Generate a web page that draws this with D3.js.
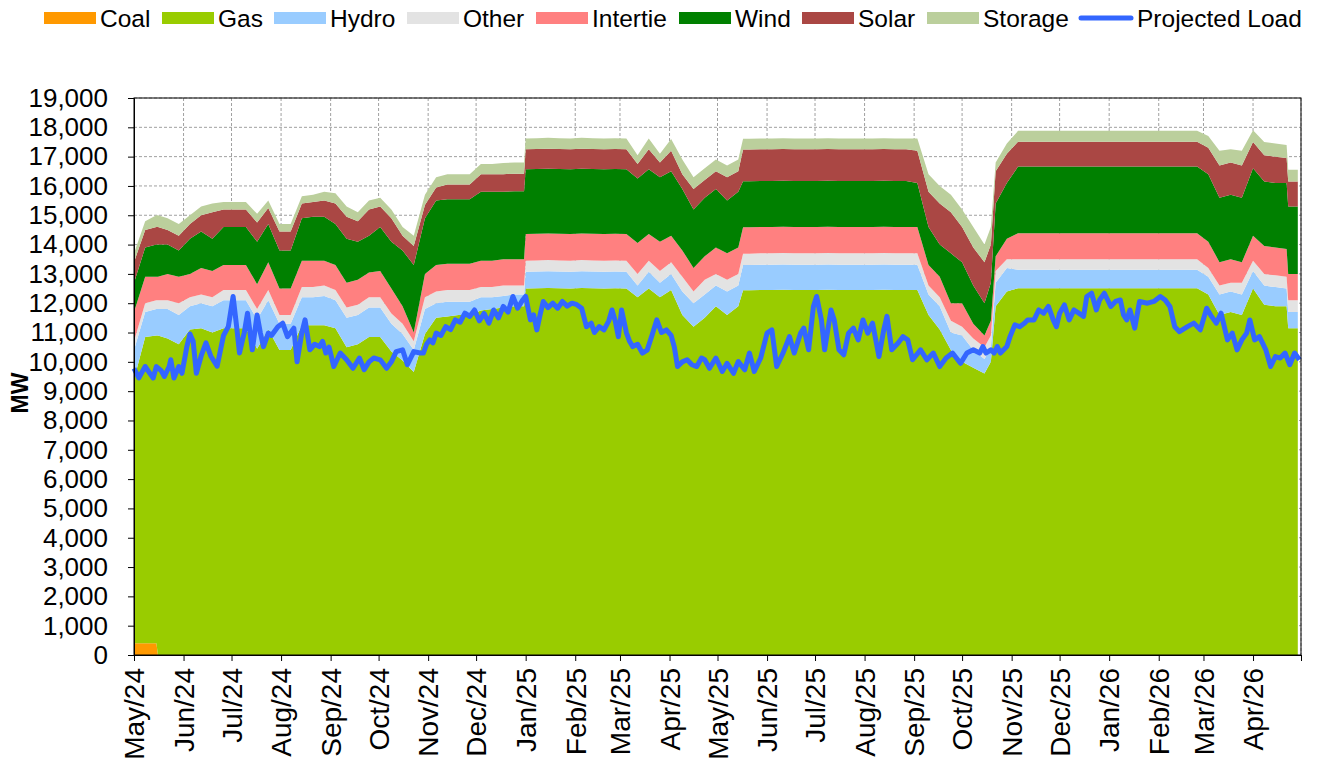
<!DOCTYPE html>
<html>
<head>
<meta charset="utf-8">
<script src="https://cdn.jsdelivr.net/npm/d3@7"></script>
<style>
body { margin: 0; background: #fff; }
svg text { font-family: "Liberation Sans", Arial, sans-serif; fill: #000; }
</style>
</head>
<body>
<svg id="chart" width="1320" height="765"></svg>
<script>
var startDate = new Date(Date.UTC(2024, 4, 1));
var endDate = new Date(Date.UTC(2026, 4, 1));

var seriesNames = ["Coal", "Gas", "Hydro", "Other", "Intertie", "Wind", "Solar", "Storage"];

// supply samples: mostly weekly, plus a few extra days at the steps
var sampleDays = [0, 7, 14, 15, 21, 28, 35, 42, 49, 56, 63, 70, 77, 84, 91, 98, 105, 112, 119, 126,
  133, 140, 147, 154, 161, 168, 175, 182, 189, 196, 203, 210, 217, 224, 231, 238, 244, 245, 252, 259,
  266, 273, 280, 287, 294, 301, 308, 315, 322, 329, 336, 343, 350, 357, 364, 371, 378, 381, 385, 392,
  399, 406, 413, 420, 427, 434, 441, 448, 455, 462, 469, 476, 483, 490, 497, 504, 511, 518, 525, 532,
  536, 539, 546, 553, 560, 567, 574, 581, 588, 595, 602, 609, 616, 623, 630, 637, 644, 651, 658, 665,
  672, 679, 686, 693, 700, 707, 714, 721, 722, 728];

var coal = [400, 400, 400, 0, 0, 0, 0, 0, 0, 0, 0, 0, 0, 0, 0, 0, 0, 0, 0, 0,
  0, 0, 0, 0, 0, 0, 0, 0, 0, 0, 0, 0, 0, 0, 0, 0, 0, 0, 0, 0,
  0, 0, 0, 0, 0, 0, 0, 0, 0, 0, 0, 0, 0, 0, 0, 0, 0, 0, 0, 0,
  0, 0, 0, 0, 0, 0, 0, 0, 0, 0, 0, 0, 0, 0, 0, 0, 0, 0, 0, 0,
  0, 0, 0, 0, 0, 0, 0, 0, 0, 0, 0, 0, 0, 0, 0, 0, 0, 0, 0, 0,
  0, 0, 0, 0, 0, 0, 0, 0, 0, 0];
var gas = [9000, 10450, 10500, 10900,
  10800, 10600, 11100, 11150, 11000, 11150, 11150, 11150, 10450, 11100, 10400, 10400, 11250, 11250, 11250, 11150,
  10500, 10600, 10850, 10850, 10350, 10050, 9650, 10950, 11500, 11550, 11600, 11600, 11750, 11800, 11850, 11900,
  11900,
  12500, 12510, 12520, 12510, 12500, 12520, 12510, 12500, 12510, 12500, 12200, 12500, 12200, 12450, 11600, 11200,
  11500, 11900, 11600, 11900,
  12440,
  12440, 12450, 12450, 12460, 12450, 12450, 12450, 12460, 12450, 12450, 12450, 12450, 12460, 12450, 12450, 12450,
  11600, 11100, 10400, 10000, 9800, 9600,
  10000,
  11900, 12400, 12510, 12510, 12510, 12510, 12510, 12510, 12510, 12510, 12510, 12510, 12510, 12510, 12510, 12510,
  12510, 12510, 12510, 12300, 11600, 11700, 11600, 12500, 11950, 11900, 11900,
  11150, 11150];
var hydro = [1000, 850, 900, 900,
  1000, 1000, 800, 850, 900, 950, 950, 950, 1000, 1000, 900, 900, 950, 950, 1000, 950,
  1000, 1000, 1000, 1000, 950, 900, 750, 850, 500, 500, 450, 450, 450, 400, 400, 400,
  400,
  570, 570, 570, 570, 570, 570, 570, 570, 570, 570, 400, 570, 500, 550, 800, 800,
  800, 700, 800, 700,
  860,
  860, 860, 860, 860, 860, 860, 860, 860, 860, 860, 860, 860, 860, 860, 860, 860,
  700, 800, 600, 900, 600, 500,
  500,
  800, 800, 630, 630, 630, 630, 630, 630, 630, 630, 630, 630, 630, 630, 630, 630,
  630, 630, 630, 600, 700, 700, 700, 600, 650, 650, 600,
  550, 550];
var other = [300, 300, 300, 300,
  300, 400, 300, 300, 300, 350, 350, 350, 350, 350, 300, 300, 350, 350, 350, 350,
  350, 350, 350, 350, 350, 350, 300, 400, 400, 400, 400, 400, 350, 350, 350, 300,
  300,
  380, 380, 380, 380, 380, 380, 380, 380, 380, 380, 400, 380, 400, 400, 500, 400,
  500, 400, 400, 400,
  390,
  390, 390, 390, 390, 390, 390, 390, 390, 390, 390, 390, 390, 390, 390, 390, 390,
  300, 300, 400, 300, 400, 400,
  400,
  400, 300, 360, 360, 360, 360, 360, 360, 360, 360, 360, 360, 360, 360, 360, 360,
  360, 360, 360, 300, 300, 300, 400, 350, 400, 400, 400,
  400, 400];
var intertie = [1000, 900, 800, 800,
  900, 900, 800, 900, 900, 850, 850, 850, 850, 950, 900, 900, 900, 900, 850, 850,
  850, 850, 850, 900, 850, 600, 300, 800, 900, 900, 900, 900, 900, 900, 900, 900,
  900,
  910, 910, 910, 910, 910, 910, 910, 910, 910, 910, 1050, 910, 1000, 900, 900, 800,
  800, 900, 900, 900,
  900,
  900, 900, 900, 900, 900, 900, 900, 900, 900, 900, 900, 900, 900, 900, 900, 900,
  700, 700, 600, 800, 500, 400,
  500,
  500, 700, 890, 890, 890, 890, 890, 890, 890, 890, 890, 890, 890, 890, 890, 890,
  890, 890, 890, 900, 800, 800, 700, 850, 950, 950, 950,
  900, 900];
var wind = [1000, 1000, 1100, 1100,
  1000, 900, 1200, 1250, 1100, 1300, 1300, 1300, 1450, 1300, 1300, 1300, 1450, 1500, 1500, 1400,
  1500, 1300, 1250, 1500, 1600, 1900, 2300, 1900, 2200, 2200, 2200, 2200, 2350, 2350, 2300, 2320,
  2320,
  2210, 2210, 2210, 2210, 2210, 2210, 2210, 2210, 2210, 2210, 2200, 2210, 2200, 2200, 2100, 2000,
  2000, 2000, 1800, 1900,
  1570,
  1570, 1570, 1570, 1570, 1570, 1570, 1570, 1570, 1570, 1570, 1570, 1570, 1570, 1570, 1570, 1500,
  1300, 1100, 1700, 1400, 1300, 1100,
  1300,
  1800, 1900, 2270, 2270, 2270, 2270, 2270, 2270, 2270, 2270, 2270, 2270, 2270, 2270, 2270, 2270,
  2270, 2270, 2270, 2300, 2200, 2200, 2200, 2300, 2200, 2200, 2250,
  2300, 2300];
var solar = [700, 600, 600, 600,
  500, 500, 500, 550, 900, 600, 600, 600, 650, 550, 650, 650, 500, 500, 550, 700,
  750, 700, 900, 700, 800, 500, 650, 450, 450, 500, 500, 500, 600, 600, 600, 600,
  600,
  680, 680, 680, 680, 680, 680, 680, 680, 680, 680, 500, 680, 500, 700, 500, 700,
  600, 600, 800, 700,
  1080,
  1080, 1080, 1080, 1080, 1080, 1080, 1080, 1080, 1080, 1080, 1080, 1080, 1080, 1080, 1080, 1100,
  1200, 1400, 1400, 1200, 1300, 1400,
  1300,
  1100, 1000, 850, 850, 850, 850, 850, 850, 850, 850, 850, 850, 850, 850, 850, 850,
  850, 850, 850, 900, 1100, 1100, 1100, 900, 900, 900, 850,
  850, 850];
var storage = [300, 300, 400, 400,
  400, 400, 300, 300, 300, 250, 250, 250, 300, 250, 250, 250, 250, 250, 300, 350,
  350, 300, 300, 300, 300, 300, 350, 350, 350, 350, 350, 350, 350, 350, 380, 380,
  380,
  370, 370, 370, 370, 370, 370, 370, 370, 370, 370, 300, 370, 300, 400, 500, 400,
  400, 400, 400, 400,
  370,
  370, 370, 370, 370, 370, 370, 370, 370, 370, 370, 370, 370, 370, 370, 370, 420,
  600, 600, 600, 600, 700, 600,
  600,
  300, 350, 370, 370, 370, 370, 370, 370, 370, 370, 370, 370, 370, 370, 370, 370,
  370, 370, 370, 400, 500, 450, 500, 400, 450, 450, 450,
  400, 400];

var loadDays = [0, 3, 7, 10, 12, 14, 17, 19, 22, 23, 25, 28, 30, 33, 35, 37, 39, 42, 45, 48,
  52, 56, 59, 62, 64, 66, 69, 71, 74, 77, 79, 81, 84, 86, 90, 93, 96, 100, 102, 105,
  107, 110, 113, 116, 118, 120, 122, 125, 129, 133, 137, 141, 144, 147, 150, 154, 158, 161, 164, 168,
  171, 175, 179, 181, 183, 185, 187, 189, 192, 195, 198, 201, 204, 207, 210, 213, 216, 219, 222, 225,
  228, 231, 234, 237, 240, 243, 245, 248, 250, 252, 254, 256, 259, 262, 265, 268, 271, 274, 277, 280,
  283, 286, 288, 291, 294, 297, 299, 301, 303, 305, 308, 310, 312, 315, 318, 321, 324, 327, 330, 333,
  336, 338, 340, 343, 346, 349, 352, 355, 357, 360, 364, 368, 371, 375, 378, 382, 385, 388, 392, 396,
  399, 402, 406, 410, 413, 417, 419, 422, 425, 427, 430, 432, 436, 438, 441, 444, 447, 450, 453, 456,
  459, 462, 466, 469, 471, 474, 478, 481, 484, 487, 492, 496, 500, 504, 508, 512, 517, 521, 525, 529,
  531, 533, 536, 538, 540, 542, 544, 546, 548, 551, 554, 557, 559, 563, 566, 569, 572, 575, 577, 579,
  582, 585, 588, 591, 594, 596, 599, 602, 604, 607, 611, 614, 617, 619, 621, 623, 626, 629, 634, 638,
  642, 645, 648, 651, 654, 659, 663, 667, 671, 674, 677, 680, 684, 687, 690, 693, 696, 698, 701, 704,
  708, 711, 714, 717, 720, 723, 726, 729];
var projectedLoad = [9780, 9450, 9840, 9600, 9450, 9840, 9700, 9500, 9840, 10070, 9450, 9840, 9610, 10500, 10950, 10700, 9610, 10200, 10650, 10200,
  9850, 10900, 11200, 12230, 11300, 10300, 11000, 11660, 10410, 11600, 11000, 10520, 10980, 10900, 11200, 11320, 10860, 11150, 10000, 11000,
  11430, 10410, 10600, 10520, 10700, 10300, 10500, 9840, 10300, 10070, 9780, 10130, 9730, 10000, 10130, 10070, 9780, 10000, 10350, 10410,
  9900, 10350, 10300, 10300, 10600, 10750, 10650, 10980, 10900, 11200, 11100, 11430, 11350, 11660, 11550, 11770, 11400, 11650, 11320, 11770,
  11500, 11890, 11700, 12230, 11830, 12100, 12230, 11430, 11600, 11090, 11600, 12060, 11850, 12000, 11830, 12060, 11900, 12000, 11950, 11830,
  11200, 11320, 11000, 11200, 11090, 11400, 11770, 11400, 10860, 11770, 11000, 10700, 10520, 10600, 10300, 10400, 10900, 11430, 11000, 11090,
  10900, 10500, 9840, 10000, 10070, 9900, 9840, 10130, 10070, 9780, 10130, 9670, 9950, 9610, 10010, 9730, 10300, 9670, 10130, 10980,
  11090, 9840, 10300, 10860, 10300, 10980, 11150, 10410, 11890, 12230, 11430, 10410, 11770, 11430, 10410, 10240, 10980, 11150, 10750, 11430,
  10980, 11320, 10180, 11090, 11550, 10410, 10640, 10860, 10750, 10070, 10410, 10070, 10300, 9840, 10130, 10300, 9950, 10300, 10410, 10300,
  10520, 10300, 10410, 10300, 10520, 10300, 10410, 10520, 10860, 11260, 11200, 11320, 11430, 11430, 11770, 11660, 11890, 11430, 11200, 11660,
  11940, 11430, 11770, 11660, 11550, 12230, 12340, 11770, 12110, 12340, 11890, 12060, 12110, 11600, 11430, 11770, 11150, 12060, 12000, 12060,
  12230, 12110, 11890, 11200, 11030, 11200, 11320, 11090, 11830, 11550, 11320, 11660, 10750, 10980, 10410, 10750, 10980, 11430, 10750, 10860,
  10410, 9840, 10180, 10130, 10300, 9900, 10300, 10070];

var colors = {
  Coal: "#ff9900", Gas: "#99cc00", Hydro: "#99ccff", Other: "#e3e3e3",
  Intertie: "#ff8080", Wind: "#008000", Solar: "#aa4744", Storage: "#bbcf9c"
};
var loadColor = "#3366ff";

var seriesData = {
  Coal: coal, Gas: gas, Hydro: hydro, Other: other, Intertie: intertie,
  Wind: wind, Solar: solar, Storage: storage
};

var rows = sampleDays.map(function (day, i) {
  var row = { date: d3.utcDay.offset(startDate, day) };
  seriesNames.forEach(function (k) { row[k] = seriesData[k][i]; });
  return row;
});
var loadRows = loadDays.map(function (day, i) {
  return { date: d3.utcDay.offset(startDate, day), load: projectedLoad[i] };
});

var margin = { left: 134, right: 19, top: 98, bottom: 110 };
var svg = d3.select("#chart");
var W = 1320, H = 765;
var x = d3.scaleUtc().domain([startDate, endDate]).range([margin.left, W - margin.right]);
var y = d3.scaleLinear().domain([0, 19000]).range([H - margin.bottom, margin.top]);

// grid
var monthTicks = d3.utcMonth.range(startDate, d3.utcDay.offset(endDate, 1));
svg.append("g").selectAll("line")
  .data(d3.range(1000, 19001, 1000))
  .enter().append("line")
    .attr("x1", margin.left).attr("x2", W - margin.right)
    .attr("y1", d => y(d)).attr("y2", d => y(d))
    .attr("stroke", "#a0a0a0").attr("stroke-dasharray", "3,2");
svg.append("g").selectAll("line")
  .data(monthTicks.slice(1))
  .enter().append("line")
    .attr("x1", d => x(d)).attr("x2", d => x(d))
    .attr("y1", margin.top).attr("y2", H - margin.bottom)
    .attr("stroke", "#a0a0a0").attr("stroke-dasharray", "3,2");

// stacked areas
var stacked = d3.stack().keys(seriesNames)(rows);
var area = d3.area()
  .x(d => x(d.data.date))
  .y0(d => y(d[0]))
  .y1(d => y(d[1]));
svg.append("g").selectAll("path")
  .data(stacked)
  .enter().append("path")
    .attr("fill", d => colors[d.key])
    .attr("d", area);

// projected load
var line = d3.line().x(d => x(d.date)).y(d => y(d.load));
svg.append("path")
  .datum(loadRows)
  .attr("fill", "none")
  .attr("stroke", loadColor)
  .attr("stroke-width", 5)
  .attr("stroke-linejoin", "round")
  .attr("d", line);

// frame
svg.append("rect")
  .attr("x", margin.left).attr("y", margin.top)
  .attr("width", W - margin.right - margin.left)
  .attr("height", H - margin.bottom - margin.top)
  .attr("fill", "none").attr("stroke", "#000");

// axes
var yAxis = svg.append("g")
  .attr("transform", "translate(" + margin.left + ",0)")
  .call(d3.axisLeft(y).tickValues(d3.range(0, 19001, 1000))
    .tickFormat(d3.format(",")).tickSize(6).tickPadding(20));
yAxis.selectAll("text").style("font-size", "26px");

var monthFmt = d3.utcFormat("%b/%y");
var xAxis = svg.append("g")
  .attr("transform", "translate(0," + (H - margin.bottom) + ")")
  .call(d3.axisBottom(x).tickValues(monthTicks)
    .tickFormat(d => d < endDate ? monthFmt(d) : "").tickSize(6));
xAxis.selectAll("text")
  .style("font-size", "28px")
  .attr("transform", "rotate(-90)")
  .attr("text-anchor", "end")
  .attr("x", -13).attr("y", 0).attr("dy", "0.35em");
svg.selectAll(".domain").attr("stroke", "#000");

svg.append("text")
  .attr("transform", "translate(28,393) rotate(-90)")
  .attr("text-anchor", "middle")
  .style("font-size", "23px").style("font-weight", "bold")
  .text("MW");

// legend
var legendX = [44, 162, 274, 407, 536, 679, 802, 927];
var legend = svg.append("g");
seriesNames.forEach(function (k, i) {
  legend.append("rect")
    .attr("x", legendX[i]).attr("y", 12).attr("width", 52).attr("height", 12)
    .attr("fill", colors[k]);
  legend.append("text")
    .attr("x", legendX[i] + 56).attr("y", 27)
    .style("font-size", "24.5px").text(k);
});
legend.append("line")
  .attr("x1", 1081).attr("x2", 1131).attr("y1", 18).attr("y2", 18)
  .attr("stroke", loadColor).attr("stroke-width", 5).attr("stroke-linecap", "round");
legend.append("text").attr("x", 1137).attr("y", 27)
  .style("font-size", "24.5px").text("Projected Load");
</script>
</body>
</html>
